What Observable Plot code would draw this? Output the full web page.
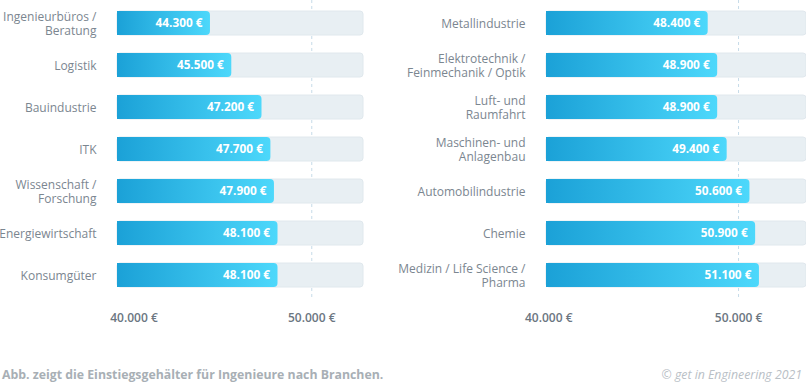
<!DOCTYPE html>
<html><head><meta charset="utf-8">
<script src="https://cdn.jsdelivr.net/npm/d3@7"></script>
<script src="https://cdn.jsdelivr.net/npm/@observablehq/plot@0.6"></script>
<style>
body{margin:0;background:#fff;font-family:"Open Sans",sans-serif;}
#wrap{position:relative;width:806px;height:384px;overflow:hidden;}
#charts{display:flex;}
#charts svg{display:block;}
#caption{position:absolute;left:2px;top:366px;font-weight:700;font-size:12.3px;color:#a8afb5;white-space:nowrap;}
#credit{position:absolute;right:4px;top:366px;font-style:italic;font-size:12.3px;color:#b9c0c6;white-space:nowrap;}
</style></head><body>
<div id="wrap"><div id="charts"></div>
<div id="caption">Abb. zeigt die Einstiegsgehälter für Ingenieure nach Branchen.</div>
<div id="credit">© get in Engineering 2021</div></div>
<script>
const leftCategories = ["Ingenieurbüros /\nBeratung", "Logistik", "Bauindustrie", "ITK", "Wissenschaft /\nForschung", "Energiewirtschaft", "Konsumgüter"];
const leftValues = [44300, 45500, 47200, 47700, 47900, 48100, 48100];
const rightCategories = ["Metallindustrie", "Elektrotechnik /\nFeinmechanik / Optik", "Luft- und\nRaumfahrt", "Maschinen- und\nAnlagenbau", "Automobilindustrie", "Chemie", "Medizin / Life Science /\nPharma"];
const rightValues = [48400, 48900, 48900, 49400, 50600, 50900, 51100];
const tickValues = [40000, 50000];
const tickLabels = ["40.000 €", "50.000 €"];
const gridValues = [50000];
const leftDomain = [39070, 52910];
const rightDomain = [39880, 53580];

const fmt = v => d3.format(",")(v).replace(/,/g, ".") + " €";

function panel({id, categories, values, domain, width, marginLeft, marginRight}) {
  const data = categories.map((c, i) => ({category: c, value: values[i]}));
  const gid = "grad-" + id;
  const svg = Plot.plot({
    width, height: 340, marginLeft, marginRight, marginTop: 0, marginBottom: 43,
    style: {fontFamily: "Open Sans", overflow: "visible", background: "transparent"},
    x: {domain, label: null},
    y: {domain: categories, paddingInner: 0.437, paddingOuter: 0.2, label: null},
    marks: [
      Plot.ruleX(gridValues, {stroke: "#c6dbe8", strokeDasharray: "3,3"}),
      Plot.barX(data, {y: "category", x1: domain[0], x2: domain[1], fill: "#e8eff3", stroke: "#e0e8ed", rx: 3}),
      Plot.barX(data, {y: "category", x1: domain[0], x2: "value", fill: `url(#${gid})`, rx2: 4}),
      Plot.ruleX([domain[0]], {stroke: "#d5dadf", strokeWidth: 1.5, y2: 300}),
      Plot.text(data, {y: "category", x: "value", text: d => fmt(d.value), textAnchor: "end", dx: -8, fill: "white", fontWeight: 700, fontSize: 11.8}),
      Plot.axisY({tickSize: 0, tickPadding: 21, fontSize: 12, fill: "#7b8690", lineHeight: 1.2, label: null}),
      Plot.axisX({ticks: tickValues, tickFormat: d => tickLabels[tickValues.indexOf(d)], tickSize: 0, tickPadding: 16, fontSize: 12, fontWeight: 600, fill: "#6b7681", label: null})
    ]
  });
  const defs = d3.select(svg).insert("defs", ":first-child");
  const g = defs.append("linearGradient").attr("id", gid).attr("x1", 0).attr("x2", 1).attr("y1", 0).attr("y2", 0);
  g.append("stop").attr("offset", "0%").attr("stop-color", "#1ba1d7");
  g.append("stop").attr("offset", "100%").attr("stop-color", "#4dd8fb");
  return svg;
}

const charts = document.getElementById("charts");
charts.appendChild(panel({id: "l", categories: leftCategories, values: leftValues, domain: leftDomain, width: 380, marginLeft: 117, marginRight: 17}));
charts.appendChild(panel({id: "r", categories: rightCategories, values: rightValues, domain: rightDomain, width: 426, marginLeft: 166, marginRight: 0}));
</script>
</body></html>
